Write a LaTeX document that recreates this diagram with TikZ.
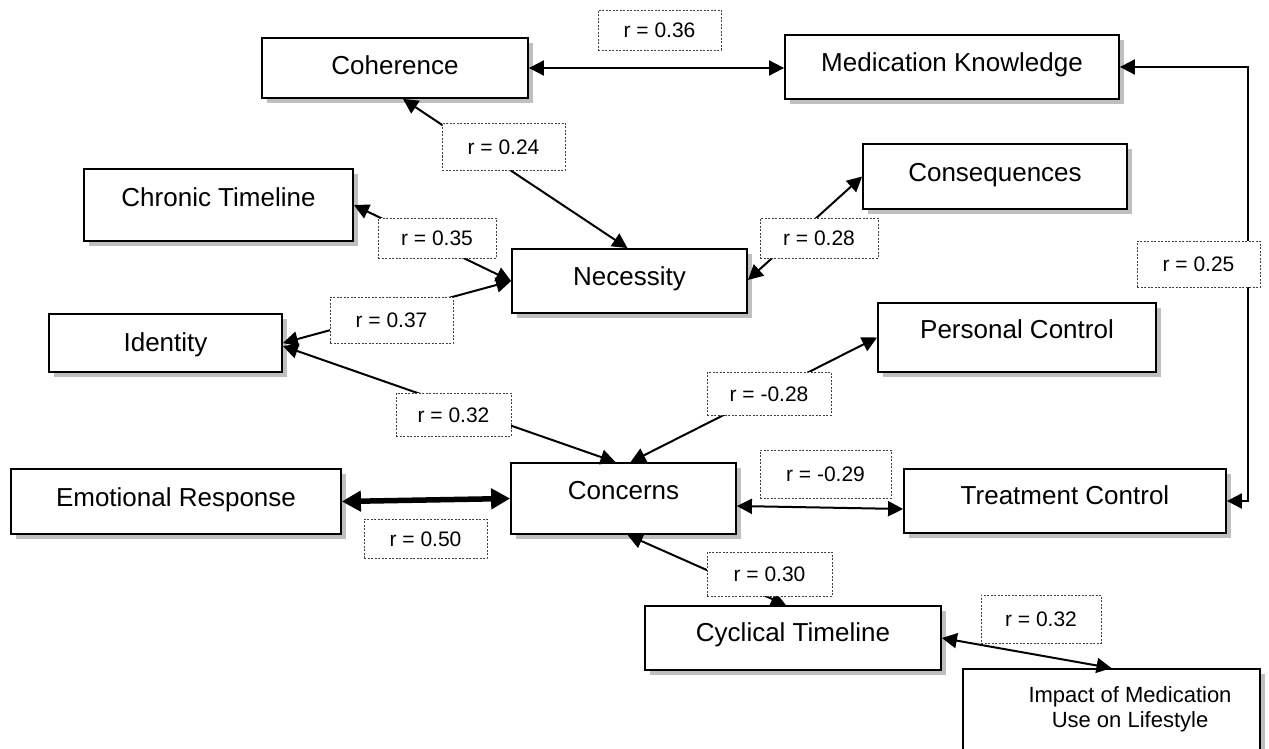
\documentclass[tikz,border=0pt]{standalone}
\usepackage{fontspec}
\setmainfont{Liberation Sans}
\usetikzlibrary{arrows.meta,shadows}
\begin{document}
\begin{tikzpicture}[x=1pt,y=-1pt,
 box/.style={draw,line width=1.8pt,fill=white,inner sep=0pt,
   drop shadow={shadow xshift=5pt,shadow yshift=-5pt,fill=black!25,opacity=1}},
 bt/.style={font=\fontsize{26}{30}\selectfont,text height=19pt,text depth=0pt,inner sep=0pt},
 lab/.style={draw=black!75,dash pattern=on 2pt off 1.5pt,line width=0.9pt,fill=white,inner sep=0pt,
   font=\fontsize{21}{25}\selectfont,text height=15pt,text depth=0pt},
 conn/.style={line width=2pt,{Triangle[length=15pt,width=15pt]}-{Triangle[length=15pt,width=15pt]}},
 heavy/.style={line width=5.5pt,{Triangle[length=19pt,width=20pt]}-{Triangle[length=19pt,width=20pt]}}
]
\useasboundingbox (0,0) rectangle (1269,749);
\clip (0,0) rectangle (1269,749);
% boxes
\node[box,minimum width=266pt,minimum height=60pt,label={[bt,yshift=3pt]center:Coherence}] (coh) at (395,68) {};
\node[box,minimum width=334pt,minimum height=64pt,label={[bt,yshift=5pt]center:Medication Knowledge}] (mk) at (952,67) {};
\node[box,minimum width=269pt,minimum height=72pt,label={[bt,yshift=8pt]center:Chronic Timeline}] (chr) at (218.5,205) {};
\node[box,minimum width=264pt,minimum height=65pt,label={[bt,yshift=4pt]center:Consequences}] (cons) at (995,176.5) {};
\node[box,minimum width=235pt,minimum height=64pt,label={[bt,yshift=5pt]center:Necessity}] (nec) at (629.5,281) {};
\node[box,minimum width=233pt,minimum height=58pt,label={[bt,yshift=1pt]center:Identity}] (id) at (165.5,343) {};
\node[box,minimum width=278pt,minimum height=69pt,label={[bt,yshift=9pt]center:Personal Control}] (pc) at (1017,337.5) {};
\node[box,minimum width=330pt,minimum height=65pt,label={[bt,yshift=5pt]center:Emotional Response}] (emo) at (176,501.5) {};
\node[box,minimum width=225pt,minimum height=71pt,label={[bt,yshift=9pt]center:Concerns}] (conc) at (623.5,498.5) {};
\node[box,minimum width=322pt,minimum height=64pt,label={[bt,yshift=6pt]center:Treatment Control}] (tc) at (1065,501) {};
\node[box,minimum width=296pt,minimum height=64pt,label={[bt,yshift=6pt]center:Cyclical Timeline}] (cyc) at (793,638) {};
\node[box,minimum width=297pt,minimum height=110pt] (imp) at (1111.5,724) {};
\node[font=\fontsize{22}{25.5}\selectfont,align=center,anchor=north,inner sep=0pt] (imptext) at (1130,686) {Impact of Medication\\Use on Lifestyle};
% connectors
\draw[conn] (coh.east) -- (coh.east -| mk.west);
\draw[conn] ([xshift=8pt]coh.south) -- ([xshift=-2pt]nec.north);
\draw[conn] (chr.east) -- (nec.west);
\draw[conn] (id.east) -- (nec.west);
\draw[conn] ([yshift=-3pt]id.east) -- ([xshift=-8pt]conc.north);
\draw[conn] ([yshift=1pt]nec.east) -- (cons.west);
\draw[conn] ([xshift=7pt]conc.north) -- (pc.west);
\draw[heavy] (emo.east) -- (conc.west);
\draw[conn] ([yshift=-7.5pt]conc.east) -- ([yshift=-8pt]tc.west);
\draw[conn] ([xshift=4pt]conc.south) -- ([xshift=-7pt]cyc.north);
\draw[conn] (cyc.east) -- (imp.north);
\draw[conn] (mk.east) -- ([xshift=128pt]mk.east) |- (tc.east);
% labels
\node[lab,minimum width=123pt,minimum height=40pt] (l36) at (659.5,30) {r = 0.36};
\node[lab,minimum width=123pt,minimum height=47pt] (l24) at (503.5,146.5) {r = 0.24};
\node[lab,minimum width=118pt,minimum height=40pt] (l35) at (437,238) {r = 0.35};
\node[lab,minimum width=118pt,minimum height=40pt] (l28) at (819,238) {r = 0.28};
\node[lab,minimum width=123pt,minimum height=46pt] (l25) at (1198.5,264) {r = 0.25};
\node[lab,minimum width=123pt,minimum height=46pt] (l37) at (391.5,320) {r = 0.37};
\node[lab,minimum width=115pt,minimum height=43pt] (l32a) at (453.5,414.5) {r = 0.32};
\node[lab,minimum width=124pt,minimum height=43pt] (l28n) at (769,393.5) {r = -0.28};
\node[lab,minimum width=131pt,minimum height=48pt] (l29) at (825.5,474) {r = -0.29};
\node[lab,minimum width=123pt,minimum height=39pt] (l50) at (425.5,538.5) {r = 0.50};
\node[lab,minimum width=125pt,minimum height=44pt] (l30) at (769.5,574) {r = 0.30};
\node[lab,minimum width=120pt,minimum height=48pt] (l32b) at (1041,619) {r = 0.32};
\end{tikzpicture}
\end{document}
